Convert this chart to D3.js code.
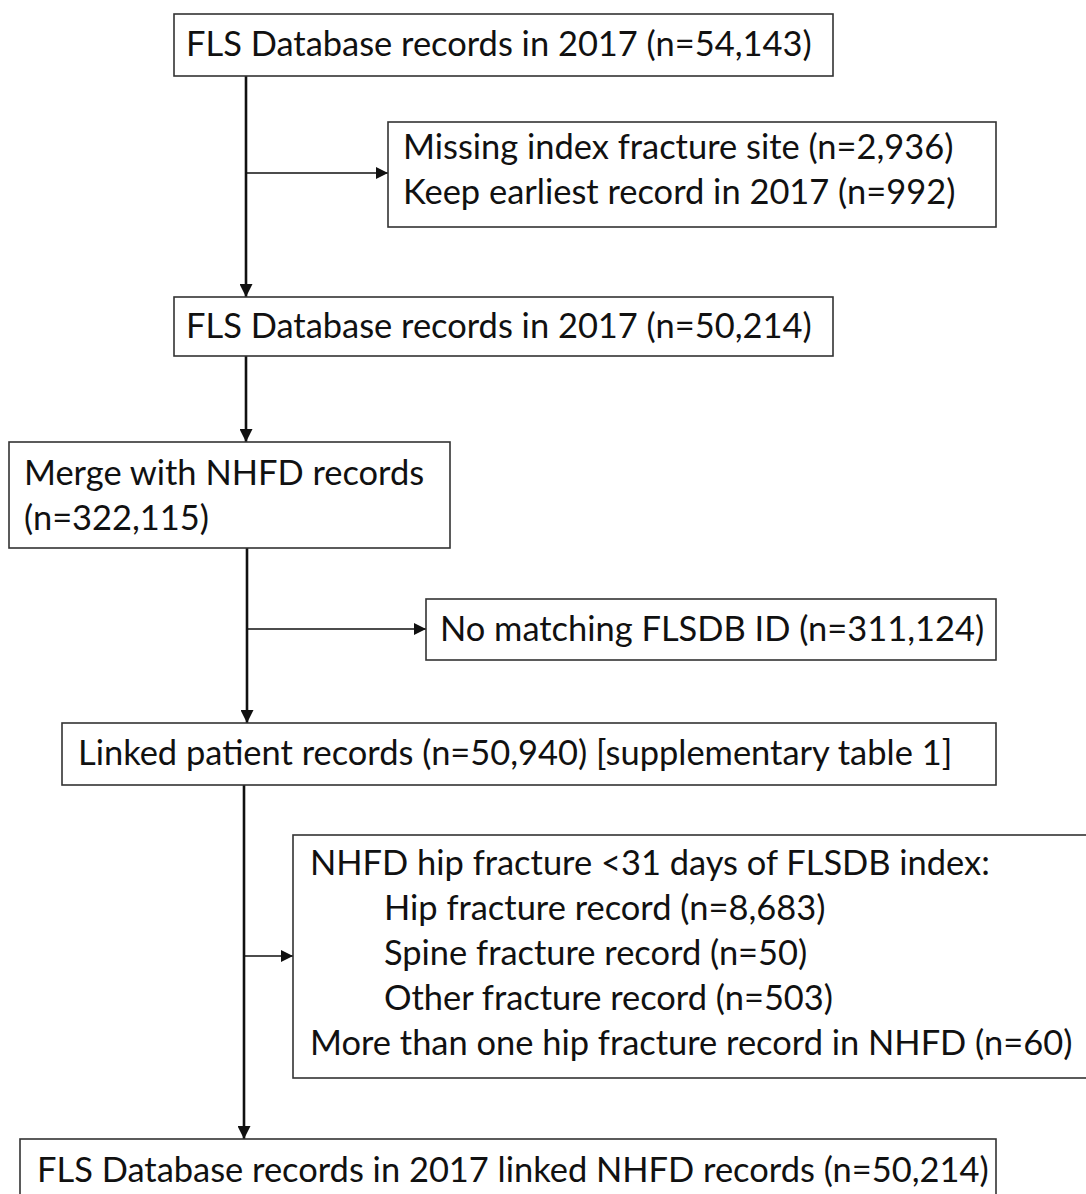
<!DOCTYPE html>
<html>
<head>
<meta charset="utf-8">
<script src="https://cdn.jsdelivr.net/npm/d3@7"></script>
<style>
  body { margin: 0; background: #fff; }
  svg { display: block; }
</style>
</head>
<body>
<div id="chart"></div>
<script>
// flowchart content
var boxNames = ["start", "excl1", "clean", "merge", "nomatch", "linked", "excl2", "final"];
var boxLines = [
  ["FLS Database records in 2017 (n=54,143)"],
  ["Missing index fracture site (n=2,936)", "Keep earliest record in 2017 (n=992)"],
  ["FLS Database records in 2017 (n=50,214)"],
  ["Merge with NHFD records", "(n=322,115)"],
  ["No matching FLSDB ID (n=311,124)"],
  ["Linked patient records (n=50,940) [supplementary table 1]"],
  ["NHFD hip fracture <31 days of FLSDB index:", "Hip fracture record (n=8,683)",
   "Spine fracture record (n=50)", "Other fracture record (n=503)",
   "More than one hip fracture record in NHFD (n=60)"],
  ["FLS Database records in 2017 linked NHFD records (n=50,214)"]
];
var lineIndent = [
  [0], [0, 0], [0], [0, 0], [0], [0], [0, 1, 1, 1, 0], [0]
];

// layout (px)
var layout = {
  start:   {x: 174, y: 14,   w: 659, h: 62,  tx: 12, first: 42, step: 45},
  excl1:   {x: 388, y: 122,  w: 608, h: 105, tx: 15, first: 37, step: 45},
  clean:   {x: 174, y: 297,  w: 659, h: 59,  tx: 12, first: 41, step: 45},
  merge:   {x: 9,   y: 442,  w: 441, h: 106, tx: 15, first: 43, step: 45},
  nomatch: {x: 426, y: 599,  w: 570, h: 61,  tx: 14, first: 42, step: 45},
  linked:  {x: 62,  y: 723,  w: 934, h: 62,  tx: 16, first: 42, step: 45},
  excl2:   {x: 293, y: 835,  w: 800, h: 243, tx: 17, first: 40, step: 45},
  final:   {x: 20,  y: 1139, w: 976, h: 80,  tx: 17, first: 43, step: 45}
};
var indentPx = 74;

// connectors: main trunk segments and side branches
var trunks = [
  {x: 246, from: "start", to: "clean"},
  {x: 246, from: "clean", to: "merge"},
  {x: 247, from: "merge", to: "linked"},
  {x: 244, from: "linked", to: "final"}
];
var branches = [
  {x: 246, y: 173, to: "excl1"},
  {x: 247, y: 629, to: "nomatch"},
  {x: 244, y: 956, to: "excl2"}
];

var W = 1086, H = 1194;
var svg = d3.select("#chart").append("svg")
  .attr("width", W).attr("height", H);

var defs = svg.append("defs");
defs.append("marker")
  .attr("id", "headBig")
  .attr("viewBox", "0 0 10 10")
  .attr("refX", 10).attr("refY", 5)
  .attr("markerWidth", 5).attr("markerHeight", 5)
  .attr("markerUnits", "strokeWidth")
  .attr("orient", "auto")
  .append("path").attr("d", "M0,0L10,5L0,10Z").attr("fill", "#111");
defs.append("marker")
  .attr("id", "headSmall")
  .attr("viewBox", "0 0 10 10")
  .attr("refX", 10).attr("refY", 5)
  .attr("markerWidth", 7.5).attr("markerHeight", 7.5)
  .attr("markerUnits", "strokeWidth")
  .attr("orient", "auto")
  .append("path").attr("d", "M0,0L10,5L0,10Z").attr("fill", "#111");

// font size fitted to the first box's text width
var fontFamily = "Lato, 'Open Sans', sans-serif";
var probe = svg.append("text").attr("font-family", fontFamily).attr("font-size", 100)
  .text(boxLines[0][0]);
var probeW = probe.node().getComputedTextLength();
probe.remove();
var fontSize = 100 * 626 / probeW;

var boxes = boxNames.map(function(n, i) {
  return {name: n, lines: boxLines[i], indent: lineIndent[i], L: layout[n]};
});

// connectors
svg.selectAll("line.trunk")
  .data(trunks)
  .enter().append("line")
  .attr("class", "trunk")
  .attr("x1", function(d) { return d.x; })
  .attr("x2", function(d) { return d.x; })
  .attr("y1", function(d) { var b = layout[d.from]; return b.y + b.h; })
  .attr("y2", function(d) { return layout[d.to].y; })
  .attr("stroke", "#111")
  .attr("stroke-width", 2.6)
  .attr("marker-end", "url(#headBig)");

svg.selectAll("line.branch")
  .data(branches)
  .enter().append("line")
  .attr("class", "branch")
  .attr("x1", function(d) { return d.x; })
  .attr("x2", function(d) { return layout[d.to].x; })
  .attr("y1", function(d) { return d.y; })
  .attr("y2", function(d) { return d.y; })
  .attr("stroke", "#111")
  .attr("stroke-width", 1.6)
  .attr("marker-end", "url(#headSmall)");

// boxes
var g = svg.selectAll("g.box")
  .data(boxes)
  .enter().append("g")
  .attr("class", "box")
  .attr("transform", function(d) { return "translate(" + d.L.x + "," + d.L.y + ")"; });

g.append("rect")
  .attr("width", function(d) { return d.L.w; })
  .attr("height", function(d) { return d.L.h; })
  .attr("fill", "#fff")
  .attr("stroke", "#333")
  .attr("stroke-width", 1.6);

g.each(function(d) {
  d3.select(this).selectAll("text")
    .data(d.lines)
    .enter().append("text")
    .attr("x", function(t, i) { return d.L.tx + d.indent[i] * indentPx; })
    .attr("y", function(t, i) { return d.L.first + i * d.L.step; })
    .attr("font-family", fontFamily)
    .attr("font-size", fontSize)
    .attr("fill", "#111")
    .text(function(t) { return t; });
});
</script>
</body>
</html>
